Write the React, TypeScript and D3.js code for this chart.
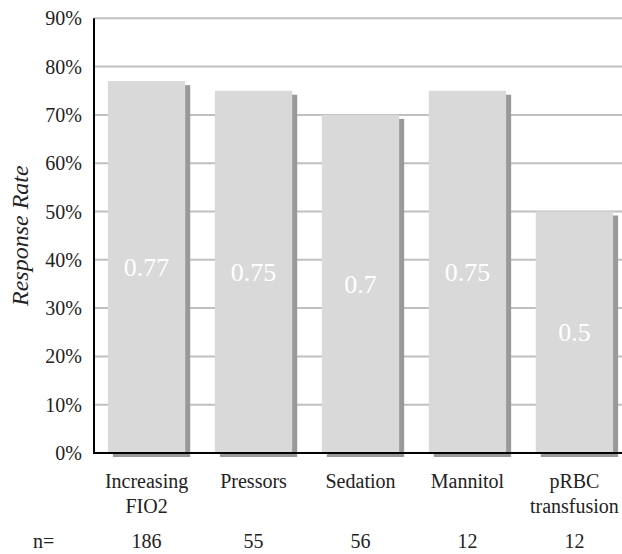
import React from "react";
import * as d3 from "d3";

const categories = ["Increasing\nFIO2", "Pressors", "Sedation", "Mannitol", "pRBC\ntransfusion"];
const values = [0.77, 0.75, 0.7, 0.75, 0.5];
const valueLabels = ["0.77", "0.75", "0.7", "0.75", "0.5"];
const nCounts = ["186", "55", "56", "12", "12"];
const yTicks = [0, 0.1, 0.2, 0.3, 0.4, 0.5, 0.6, 0.7, 0.8, 0.9];

const W = 622;
const H = 554;
const left = 94;
const right = 627;
const top = 18.3;
const bottom = 453;
const font = "'Liberation Serif', 'Times New Roman', serif";

export default function App() {
  const y = d3.scaleLinear().domain([0, 0.9]).range([bottom, top]);
  const x = d3.scaleBand().domain(categories).range([left, right]).paddingInner(0.277).paddingOuter(0.13);
  const bw = x.bandwidth();
  const fmt = d3.format(".0%");
  return (
    <svg width={W} height={H} style={{ position: "absolute", left: 0, top: 0, background: "#fff" }}>
      {yTicks.slice(1).map((t) => (
        <line key={"g" + t} x1={left} x2={W} y1={y(t)} y2={y(t)} stroke="#c0c0c0" strokeWidth={2} />
      ))}
      {categories.map((c, i) => (
        <rect key={"s" + c} x={(x(c) as number) + 5} y={y(values[i]) + 4} width={bw} height={bottom - y(values[i])} fill="#999999" />
      ))}
      {categories.map((c, i) => (
        <rect key={"b" + c} x={x(c)} y={y(values[i])} width={bw} height={bottom - y(values[i])} fill="#d9d9d9" />
      ))}
      {categories.map((c, i) => (
        <text key={"v" + c} x={(x(c) as number) + bw / 2} y={(y(values[i]) + bottom) / 2} dy="0.35em" textAnchor="middle" fill="#ffffff" fontFamily={font} fontSize={26}>
          {valueLabels[i]}
        </text>
      ))}
      <line x1={left} x2={W} y1={bottom} y2={bottom} stroke="#000" strokeWidth={2} />
      <line x1={left} x2={left} y1={top} y2={bottom + 1} stroke="#000" strokeWidth={2} />
      {yTicks.map((t) => (
        <text key={"t" + t} x={82} y={y(t)} dy="0.35em" textAnchor="end" fontFamily={font} fontSize={20} fill="#222">
          {fmt(t)}
        </text>
      ))}
      <text transform={`translate(28,${(top + bottom) / 2}) rotate(-90)`} textAnchor="middle" fontFamily={font} fontStyle="italic" fontSize={24} fill="#222">
        Response Rate
      </text>
      {categories.map((c) => (
        <text key={"c" + c} x={(x(c) as number) + bw / 2} y={488} textAnchor="middle" fontFamily={font} fontSize={20} fill="#222">
          {c.split("\n").map((line, j) => (
            <tspan key={j} x={(x(c) as number) + bw / 2} dy={j === 0 ? 0 : 25}>{line}</tspan>
          ))}
        </text>
      ))}
      <text x={33} y={548} fontFamily={font} fontSize={20} fill="#222">n=</text>
      {categories.map((c, i) => (
        <text key={"n" + c} x={(x(c) as number) + bw / 2} y={548} textAnchor="middle" fontFamily={font} fontSize={20} fill="#222">
          {nCounts[i]}
        </text>
      ))}
    </svg>
  );
}
